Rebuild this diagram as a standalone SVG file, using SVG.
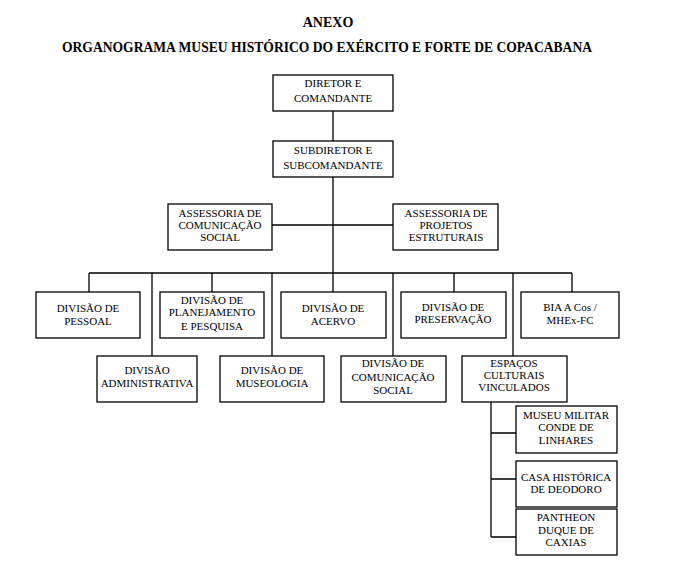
<svg xmlns="http://www.w3.org/2000/svg" width="675" height="579" viewBox="0 0 675 579">
<style>
.box{fill:#fff;stroke:#000;stroke-width:1.3}
.t{font-size:11px;text-anchor:middle;fill:#000}
.h{font-size:14px;font-weight:bold;text-anchor:middle;fill:#000}
.ln{stroke:#000;stroke-width:1.3;fill:none}
</style>
<rect width="675" height="579" fill="#fff"/>
<g font-family="Liberation Serif, Times New Roman, serif">
<text class="h" x="328" y="27">ANEXO</text>
<text class="h" x="327" y="52" textLength="530" lengthAdjust="spacingAndGlyphs">ORGANOGRAMA MUSEU HISTÓRICO DO EXÉRCITO E FORTE DE COPACABANA</text>
<g id="connectors" class="ln">
<path d="M333 111V141M333 177V292M272 225H393M89 273H572"/>
<path d="M89 273V292M152 273V356M212 273V292M272 273V356M393 273V356M454 273V292M513 273V356M572 273V292"/>
<path d="M491 402V537M491 433H516M491 479H516M491 537H516"/>
</g>
<g id="diretor"><rect class="box" x="273" y="75" width="120" height="36"/><text class="t" x="333" y="87">DIRETOR  E</text><text class="t" x="333" y="102">COMANDANTE</text></g>
<g id="subdiretor"><rect class="box" x="273" y="141" width="120" height="36"/><text class="t" x="333" y="154">SUBDIRETOR  E</text><text class="t" x="333" y="169">SUBCOMANDANTE</text></g>
<g id="ass-com"><rect class="box" x="168" y="204" width="104" height="46"/><text class="t" x="220" y="217">ASSESSORIA DE</text><text class="t" x="220" y="229">COMUNICAÇÃO</text><text class="t" x="220" y="241">SOCIAL</text></g>
<g id="ass-proj"><rect class="box" x="393" y="204" width="105" height="46"/><text class="t" x="446" y="217">ASSESSORIA DE</text><text class="t" x="446" y="229">PROJETOS</text><text class="t" x="446" y="241">ESTRUTURAIS</text></g>
<g id="pessoal"><rect class="box" x="36" y="292" width="104" height="46"/><text class="t" x="88" y="312">DIVISÃO DE</text><text class="t" x="88" y="325">PESSOAL</text></g>
<g id="planejamento"><rect class="box" x="160" y="292" width="104" height="46"/><text class="t" x="212" y="304">DIVISÃO DE</text><text class="t" x="212" y="316">PLANEJAMENTO</text><text class="t" x="212" y="330">E PESQUISA</text></g>
<g id="acervo"><rect class="box" x="281" y="292" width="105" height="46"/><text class="t" x="333" y="312">DIVISÃO DE</text><text class="t" x="333" y="325">ACERVO</text></g>
<g id="preservacao"><rect class="box" x="401" y="292" width="105" height="46"/><text class="t" x="453" y="311">DIVISÃO DE</text><text class="t" x="453" y="323">PRESERVAÇÃO</text></g>
<g id="bia"><rect class="box" x="521" y="292" width="98" height="46"/><text class="t" x="570" y="311">BIA A Cos /</text><text class="t" x="570" y="324">MHEx-FC</text></g>
<g id="administrativa"><rect class="box" x="97" y="356" width="100" height="46"/><text class="t" x="147" y="374">DIVISÃO</text><text class="t" x="147" y="387">ADMINISTRATIVA</text></g>
<g id="museologia"><rect class="box" x="220" y="356" width="104" height="46"/><text class="t" x="272" y="374">DIVISÃO DE</text><text class="t" x="272" y="387">MUSEOLOGIA</text></g>
<g id="comunicacao"><rect class="box" x="341" y="356" width="105" height="46"/><text class="t" x="393" y="367">DIVISÃO DE</text><text class="t" x="393" y="381">COMUNICAÇÃO</text><text class="t" x="393" y="394">SOCIAL</text></g>
<g id="espacos"><rect class="box" x="462" y="356" width="105" height="46"/><text class="t" x="514" y="367">ESPAÇOS</text><text class="t" x="514" y="379">CULTURAIS</text><text class="t" x="514" y="391">VINCULADOS</text></g>
<g id="museu-militar"><rect class="box" x="516" y="406" width="101" height="47"/><text class="t" x="566" y="419">MUSEU MILITAR</text><text class="t" x="566" y="431">CONDE DE</text><text class="t" x="566" y="444">LINHARES</text></g>
<g id="casa-historica"><rect class="box" x="516" y="461" width="101" height="46"/><text class="t" x="566" y="481">CASA HISTÓRICA</text><text class="t" x="566" y="493">DE DEODORO</text></g>
<g id="pantheon"><rect class="box" x="516" y="509" width="101" height="46"/><text class="t" x="566" y="521">PANTHEON</text><text class="t" x="566" y="534">DUQUE DE</text><text class="t" x="566" y="546">CAXIAS</text></g>
</g>
</svg>
